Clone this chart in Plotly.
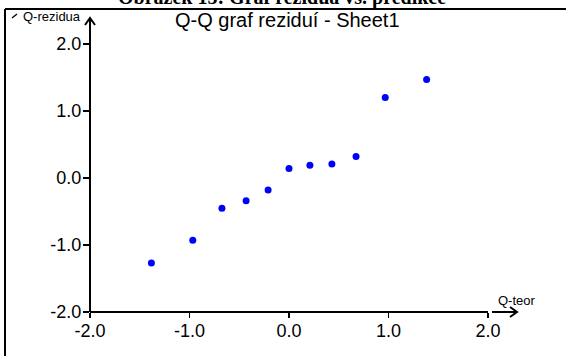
import plotly.graph_objects as go

# Data
q_teor = [-1.383, -0.967, -0.674, -0.431, -0.210, 0.0, 0.210, 0.431, 0.674, 0.967, 1.383]
q_rezidua = [-1.27, -0.93, -0.45, -0.34, -0.18, 0.14, 0.19, 0.21, 0.32, 1.20, 1.47]
x_ticks = [-2.0, -1.0, 0.0, 1.0, 2.0]
y_ticks = [-2.0, -1.0, 0.0, 1.0, 2.0]
x_tick_labels = ["-2.0", "-1.0", "0.0", "1.0", "2.0"]
y_tick_labels = ["-2.0", "-1.0", "0.0", "1.0", "2.0"]

W, H = 566, 356
L, R, T, B = 90, 488, 44, 312  # plot area in pixels


def px(x):
    return (x - L) / (R - L)


def py(y):
    return (B - y) / (B - T)


fig = go.Figure()
fig.add_trace(go.Scatter(
    x=q_teor, y=q_rezidua, mode="markers",
    marker=dict(color="#0000FF", size=7, line=dict(width=0)),
    showlegend=False, hoverinfo="skip",
))

font = "Arial, Liberation Sans, sans-serif"
fig.update_layout(
    width=W, height=H,
    margin=dict(l=L, r=W - R, t=T, b=H - B, pad=0),
    paper_bgcolor="white", plot_bgcolor="white",
    font=dict(family=font, color="black", size=18),
    xaxis=dict(range=[-2, 2], tickvals=x_ticks, ticktext=x_tick_labels,
               showgrid=False, zeroline=False, showline=False,
               ticks="outside", ticklen=5, tickwidth=1.5, tickcolor="black",
               ticklabelstandoff=-3, tickfont=dict(size=18)),
    yaxis=dict(range=[-2, 2], tickvals=y_ticks, ticktext=y_tick_labels,
               showgrid=False, zeroline=False, showline=False,
               ticks="outside", ticklen=6, tickwidth=1.5, tickcolor="black",
               ticklabelstandoff=-2, tickfont=dict(size=18)),
)

shapes = []
lw = 2
# frame
shapes.append(dict(type="line", xref="paper", yref="paper",
                   x0=px(5), x1=px(W + 5), y0=py(9), y1=py(9), line=dict(color="black", width=2)))
shapes.append(dict(type="line", xref="paper", yref="paper",
                   x0=px(5), x1=px(5), y0=py(9), y1=py(H + 5), line=dict(color="black", width=2)))
# y axis line with arrow
shapes.append(dict(type="line", xref="paper", yref="paper",
                   x0=px(L), x1=px(L), y0=py(B), y1=py(18), line=dict(color="black", width=lw)))
shapes.append(dict(type="path", xref="paper", yref="paper",
                   path=f"M {px(L-5)} {py(25)} L {px(L)} {py(18)} L {px(L+5)} {py(25)}",
                   line=dict(color="black", width=lw)))
# x axis line
shapes.append(dict(type="line", xref="paper", yref="paper",
                   x0=px(L), x1=px(R), y0=py(B), y1=py(B), line=dict(color="black", width=lw)))
shapes.append(dict(type="line", xref="paper", yref="paper",
                   x0=px(R + 4), x1=px(517), y0=py(B), y1=py(B), line=dict(color="black", width=lw)))
shapes.append(dict(type="path", xref="paper", yref="paper",
                   path=f"M {px(510)} {py(B-5)} L {px(517)} {py(B)} L {px(510)} {py(B+5)}",
                   line=dict(color="black", width=lw)))
# small diagonal mark
shapes.append(dict(type="line", xref="paper", yref="paper",
                   x0=px(12), x1=px(17), y0=py(18), y1=py(14), line=dict(color="black", width=1.5)))
fig.update_layout(shapes=shapes)

ann = [
    dict(text="<b>Obrázek 15: Graf rezidua vs. predikce</b>", x=px(282), y=py(-3),
         xref="paper", yref="paper", showarrow=False, xanchor="center", yanchor="middle",
         font=dict(family="Liberation Serif, Times New Roman, serif", size=20, color="black")),
    dict(text="Q-Q graf reziduí - Sheet1", x=px(287), y=py(20),
         xref="paper", yref="paper", showarrow=False, xanchor="center", yanchor="middle",
         font=dict(family=font, size=20, color="black")),
    dict(text="Q-rezidua", x=px(21), y=py(17),
         xref="paper", yref="paper", showarrow=False, xanchor="left", yanchor="middle",
         font=dict(family=font, size=13, color="black")),
    dict(text="Q-teor", x=px(496), y=py(300),
         xref="paper", yref="paper", showarrow=False, xanchor="left", yanchor="middle",
         font=dict(family=font, size=13, color="black")),
]
fig.update_layout(annotations=ann)

fig.write_html(
    "out.html",
    config={"displayModeBar": False, "staticPlot": True},
    post_script="document.body.style.margin='0';document.body.style.overflow='hidden';",
)
